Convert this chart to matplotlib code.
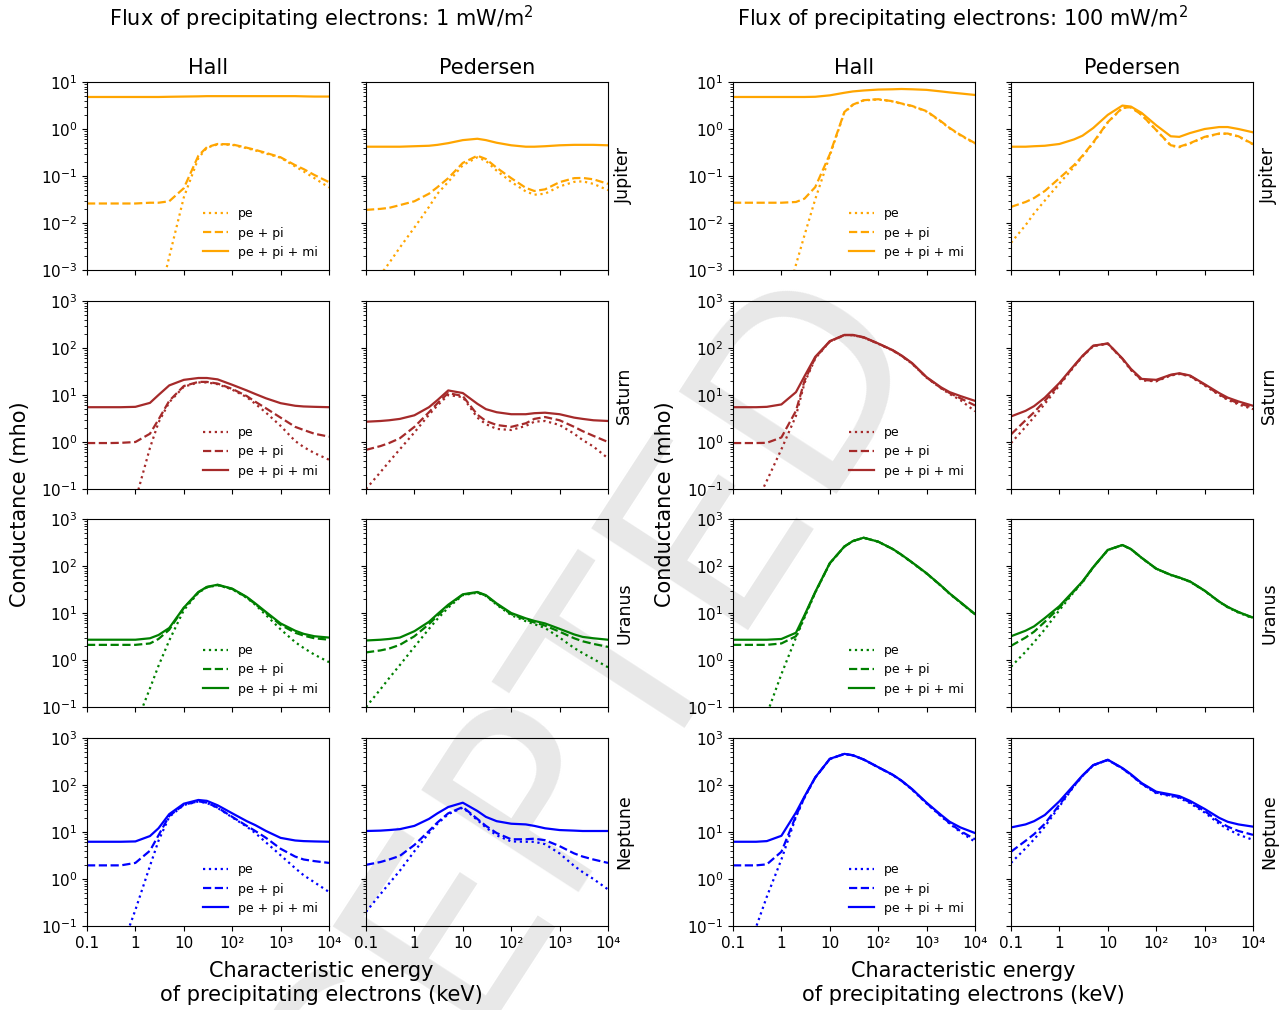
import numpy as np
import matplotlib
matplotlib.use("Agg")
import matplotlib.pyplot as plt
from matplotlib.ticker import LogLocator, NullLocator

# ---------------- data ----------------
energy = [0.1, 0.2, 0.3, 0.5, 1, 2, 3, 5, 10, 20, 30, 50, 100, 200, 300, 500,
          1000, 2000, 3000, 5000, 10000]

# Jupiter, 1 mW/m2
jup1_hall_pe = [1e-10, 1e-9, 5e-9, 1e-7, 2e-6, 4e-5, 2.1e-4, 1.9e-3, 0.035, 0.24, 0.40, 0.47, 0.46, 0.39, 0.35, 0.30, 0.245, 0.16, 0.125, 0.09, 0.057]
jup1_hall_pepi = [0.026, 0.026, 0.026, 0.026, 0.026, 0.027, 0.027, 0.029, 0.055, 0.27, 0.41, 0.48, 0.47, 0.40, 0.36, 0.31, 0.25, 0.17, 0.14, 0.105, 0.074]
jup1_hall_all = [4.8, 4.8, 4.8, 4.8, 4.8, 4.8, 4.8, 4.85, 4.9, 4.95, 5.0, 5.0, 5.0, 5.0, 5.0, 5.0, 5.0, 5.0, 4.95, 4.9, 4.9]
jup1_ped_pe = [3e-4, 8e-4, 1.4e-3, 3e-3, 8e-3, 0.022, 0.042, 0.075, 0.17, 0.25, 0.21, 0.13, 0.075, 0.047, 0.040, 0.042, 0.060, 0.075, 0.077, 0.068, 0.05]
jup1_ped_pepi = [0.019, 0.020, 0.021, 0.024, 0.029, 0.042, 0.058, 0.09, 0.19, 0.27, 0.23, 0.15, 0.09, 0.056, 0.048, 0.052, 0.074, 0.09, 0.091, 0.085, 0.068]
jup1_ped_all = [0.42, 0.42, 0.42, 0.42, 0.43, 0.44, 0.46, 0.50, 0.58, 0.62, 0.58, 0.51, 0.45, 0.42, 0.42, 0.43, 0.45, 0.46, 0.46, 0.46, 0.45]

# Jupiter, 100 mW/m2
jup100_hall_pe = [1e-8, 1e-7, 1e-6, 1e-5, 1e-4, 1.3e-3, 5.5e-3, 0.032, 0.27, 2.25, 3.25, 4.05, 4.25, 3.85, 3.45, 3.05, 2.35, 1.42, 1.03, 0.73, 0.49]
jup100_hall_pepi = [0.027, 0.027, 0.027, 0.027, 0.027, 0.028, 0.033, 0.058, 0.29, 2.3, 3.3, 4.1, 4.3, 3.9, 3.5, 3.1, 2.4, 1.45, 1.05, 0.75, 0.5]
jup100_hall_all = [4.8, 4.8, 4.8, 4.8, 4.8, 4.8, 4.8, 4.85, 5.2, 5.9, 6.3, 6.6, 6.9, 7.0, 7.1, 7.0, 6.8, 6.3, 6.0, 5.7, 5.3]
jup100_ped_pe = [0.0038, 0.009, 0.016, 0.03, 0.07, 0.155, 0.26, 0.5, 1.38, 2.8, 2.9, 2.0, 0.95, 0.44, 0.41, 0.49, 0.67, 0.79, 0.79, 0.69, 0.47]
jup100_ped_pepi = [0.022, 0.028, 0.034, 0.048, 0.09, 0.17, 0.27, 0.52, 1.4, 2.85, 2.9, 2.0, 0.95, 0.45, 0.42, 0.5, 0.68, 0.8, 0.8, 0.7, 0.48]
jup100_ped_all = [0.42, 0.42, 0.43, 0.44, 0.48, 0.6, 0.72, 1.05, 2.0, 3.15, 3.0, 2.2, 1.2, 0.7, 0.68, 0.82, 1.0, 1.1, 1.1, 1.0, 0.85]

# Saturn, 1 mW/m2
sat1_hall_pe = [1e-5, 1e-4, 5e-4, 5e-3, 0.057, 0.75, 2.6, 7.0, 15, 18.5, 18.5, 17, 13, 9.0, 6.5, 4.2, 2.2, 1.05, 0.78, 0.58, 0.42]
sat1_hall_pepi = [0.95, 0.95, 0.95, 0.96, 1.0, 1.5, 3.0, 7.5, 15.5, 19, 19, 17.5, 13.5, 9.5, 7.2, 5.2, 3.3, 2.1, 1.8, 1.5, 1.3]
sat1_hall_all = [5.5, 5.5, 5.5, 5.5, 5.6, 6.8, 10, 16, 21, 23, 23, 21.5, 16.5, 12.5, 10.5, 8.5, 6.7, 5.9, 5.7, 5.6, 5.5]
sat1_ped_pe = [0.1, 0.23, 0.38, 0.7, 1.6, 3.8, 6.0, 10.0, 9.0, 3.3, 2.4, 1.9, 1.8, 2.2, 2.7, 2.8, 2.3, 1.5, 1.1, 0.8, 0.45]
sat1_ped_pepi = [0.68, 0.82, 0.95, 1.2, 2.1, 4.3, 6.7, 11, 9.5, 3.8, 2.8, 2.3, 2.1, 2.5, 3.1, 3.4, 2.9, 2.1, 1.7, 1.35, 1.0]
sat1_ped_all = [2.7, 2.8, 2.9, 3.1, 3.7, 5.5, 7.8, 12.5, 11, 6.5, 5.0, 4.3, 3.9, 3.9, 4.1, 4.2, 3.9, 3.3, 3.1, 2.9, 2.8]

# Saturn, 100 mW/m2
sat100_hall_pe = [0.005, 0.022, 0.05, 0.15, 0.7, 3.6, 18, 60, 137, 187, 187, 167, 123, 88, 68, 46.5, 23.3, 13.8, 10.5, 7.8, 4.5]
sat100_hall_pepi = [0.95, 0.95, 0.95, 0.96, 1.25, 4.6, 20, 62, 138, 188, 188, 168, 124, 89, 69, 47, 23.5, 14, 11, 8.5, 6.0]
sat100_hall_all = [5.5, 5.5, 5.5, 5.6, 6.3, 11.5, 25, 65, 140, 190, 190, 170, 125, 90, 70, 48, 24, 14.5, 11.5, 9.5, 7.5]
sat100_ped_pe = [0.95, 2.1, 3.4, 6.5, 16, 40, 66, 110, 123, 58, 34, 20.5, 19.5, 26, 28, 25, 16, 10, 7.9, 6.3, 5.0]
sat100_ped_pepi = [1.45, 2.9, 4.3, 7.5, 17, 41, 67, 111, 124, 59, 35, 21, 20, 26.5, 28.5, 25.5, 16.5, 10.3, 8.2, 6.7, 5.4]
sat100_ped_all = [3.5, 4.6, 5.8, 8.8, 18, 42, 68, 112, 125, 60, 36, 22, 21, 27, 29, 26, 17, 11, 8.8, 7.3, 5.9]

# Uranus, 1 mW/m2
ura1_hall_pe = [1e-4, 6e-4, 1.7e-3, 6e-3, 0.04, 0.25, 0.75, 2.6, 11.5, 27, 35, 39, 32, 21, 15, 9, 4.5, 2.4, 1.8, 1.3, 0.9]
ura1_hall_pepi = [2.1, 2.1, 2.1, 2.1, 2.1, 2.25, 2.8, 4.4, 12.8, 27.5, 35.5, 39.5, 32.5, 21.5, 15.5, 10, 5.6, 3.8, 3.3, 2.9, 2.7]
ura1_hall_all = [2.7, 2.7, 2.7, 2.7, 2.7, 2.9, 3.4, 4.8, 13, 28, 36, 40, 33, 22, 16, 10.5, 6.0, 4.2, 3.6, 3.2, 3.0]
ura1_ped_pe = [0.1, 0.24, 0.41, 0.78, 1.9, 4.6, 7.5, 13, 24, 27, 23, 15, 9, 6.7, 5.8, 4.8, 3.0, 1.8, 1.4, 1.05, 0.7]
ura1_ped_pepi = [1.45, 1.6, 1.75, 2.1, 3.2, 5.8, 8.7, 14.2, 24.5, 27.5, 23.5, 15.5, 9.5, 7.2, 6.3, 5.4, 4.0, 2.9, 2.5, 2.2, 1.9]
ura1_ped_all = [2.6, 2.7, 2.8, 3.0, 4.1, 6.5, 9.5, 15, 25, 28, 24, 16, 10, 7.7, 6.8, 6.0, 4.6, 3.5, 3.1, 2.9, 2.7]

# Uranus, 100 mW/m2
ura100_hall_pe = [1e-4, 5e-4, 1.7e-3, 0.07, 0.5, 3.0, 8.0, 27, 113, 258, 338, 398, 328, 228, 173, 118, 69, 37.5, 25.5, 16.7, 9.3]
ura100_hall_pepi = [2.1, 2.1, 2.1, 2.1, 2.25, 3.2, 8.5, 27.5, 114, 259, 339, 399, 329, 229, 174, 119, 69.5, 37.8, 25.8, 16.8, 9.4]
ura100_hall_all = [2.7, 2.7, 2.7, 2.7, 2.8, 3.8, 9, 28, 115, 260, 340, 400, 330, 230, 175, 120, 70, 38, 26, 17, 9.5]
ura100_ped_pe = [0.72, 1.5, 2.4, 4.5, 11.5, 28, 45, 93, 218, 278, 228, 148, 87, 64, 56, 46, 29.5, 17.2, 13.2, 10.2, 7.7]
ura100_ped_pepi = [2.0, 3.0, 4.0, 6.5, 13, 29, 46, 94, 219, 279, 229, 149, 87.5, 64.5, 56.5, 46.5, 29.8, 17.4, 13.4, 10.4, 7.9]
ura100_ped_all = [3.2, 4.2, 5.2, 7.8, 14, 30, 47, 95, 220, 280, 230, 150, 88, 65, 57, 47, 30, 17.5, 13.5, 10.5, 8.0]

# Neptune, 1 mW/m2
nep1_hall_pe = [1e-4, 5e-4, 2e-3, 0.03, 0.22, 1.9, 6.5, 21, 37.5, 44.5, 41.5, 32.5, 20.5, 13, 9.5, 6.0, 3.2, 1.7, 1.2, 0.85, 0.53]
nep1_hall_pepi = [1.95, 1.95, 1.95, 1.95, 2.2, 4.0, 8.5, 22, 38, 45, 42, 33, 21, 13.5, 10.5, 7.5, 4.4, 3.0, 2.6, 2.4, 2.2]
nep1_hall_all = [6.2, 6.2, 6.2, 6.2, 6.3, 8.2, 12, 24, 40, 48, 46, 37, 25, 17, 14, 10.5, 7.5, 6.6, 6.4, 6.3, 6.2]
nep1_ped_pe = [0.2, 0.48, 0.8, 1.5, 3.9, 9.5, 15, 24, 33, 18, 12.5, 8.5, 6.3, 6.2, 6.2, 5.5, 3.5, 1.9, 1.4, 1.0, 0.6]
nep1_ped_pepi = [2.0, 2.3, 2.6, 3.1, 5.3, 10.5, 16, 25, 34, 19, 13.5, 9.5, 7.0, 7.0, 7.2, 6.7, 5.0, 3.5, 3.0, 2.6, 2.2]
nep1_ped_all = [10.5, 10.7, 11, 11.5, 13.5, 19, 25, 34, 42, 28, 21, 17, 15, 14.5, 13.5, 12, 11, 10.7, 10.5, 10.5, 10.5]

# Neptune, 100 mW/m2
nep100_hall_pe = [1e-3, 0.03, 0.095, 0.42, 2.6, 21, 54, 143, 357, 457, 427, 347, 238, 163, 123, 80, 40.5, 21.5, 15, 10, 6.2]
nep100_hall_pepi = [1.95, 1.95, 1.95, 2.05, 3.8, 22, 55, 144, 358, 458, 428, 348, 239, 164, 124, 81, 41, 22, 15.5, 10.5, 7.0]
nep100_hall_all = [6.2, 6.2, 6.2, 6.4, 8.3, 26, 57, 145, 360, 460, 430, 350, 240, 165, 125, 82, 42, 23, 16.5, 12.5, 9.5]
nep100_ped_pe = [2.2, 4.5, 7.0, 13, 35, 94, 155, 262, 340, 224, 164, 105, 67, 58, 53, 41, 26, 15, 11.5, 8.8, 6.8]
nep100_ped_pepi = [3.8, 6.5, 9, 15, 38, 96, 157, 264, 342, 226, 166, 107, 69, 60, 55, 43, 28, 16.5, 13, 10.5, 8.7]
nep100_ped_all = [12.5, 14.5, 17, 23, 45, 100, 160, 265, 345, 230, 170, 110, 72, 63, 58, 46, 31, 20, 16.5, 14.5, 13]

planets = ["Jupiter", "Saturn", "Uranus", "Neptune"]
planet_colors = ["orange", "brown", "green", "blue"]
fluxes = ["1", "100"]
kinds = ["Hall", "Pedersen"]
series_labels = ["pe", "pe + pi", "pe + pi + mi"]
series_styles = [":", "--", "-"]
xtick_values = [0.1, 1, 10, 100, 1000, 10000]
xtick_labels = ["0.1", "1", "10", "10²", "10³", "10⁴"]

curves = {
    ("Jupiter", "1", "Hall"): (jup1_hall_pe, jup1_hall_pepi, jup1_hall_all),
    ("Jupiter", "1", "Pedersen"): (jup1_ped_pe, jup1_ped_pepi, jup1_ped_all),
    ("Jupiter", "100", "Hall"): (jup100_hall_pe, jup100_hall_pepi, jup100_hall_all),
    ("Jupiter", "100", "Pedersen"): (jup100_ped_pe, jup100_ped_pepi, jup100_ped_all),
    ("Saturn", "1", "Hall"): (sat1_hall_pe, sat1_hall_pepi, sat1_hall_all),
    ("Saturn", "1", "Pedersen"): (sat1_ped_pe, sat1_ped_pepi, sat1_ped_all),
    ("Saturn", "100", "Hall"): (sat100_hall_pe, sat100_hall_pepi, sat100_hall_all),
    ("Saturn", "100", "Pedersen"): (sat100_ped_pe, sat100_ped_pepi, sat100_ped_all),
    ("Uranus", "1", "Hall"): (ura1_hall_pe, ura1_hall_pepi, ura1_hall_all),
    ("Uranus", "1", "Pedersen"): (ura1_ped_pe, ura1_ped_pepi, ura1_ped_all),
    ("Uranus", "100", "Hall"): (ura100_hall_pe, ura100_hall_pepi, ura100_hall_all),
    ("Uranus", "100", "Pedersen"): (ura100_ped_pe, ura100_ped_pepi, ura100_ped_all),
    ("Neptune", "1", "Hall"): (nep1_hall_pe, nep1_hall_pepi, nep1_hall_all),
    ("Neptune", "1", "Pedersen"): (nep1_ped_pe, nep1_ped_pepi, nep1_ped_all),
    ("Neptune", "100", "Hall"): (nep100_hall_pe, nep100_hall_pepi, nep100_hall_all),
    ("Neptune", "100", "Pedersen"): (nep100_ped_pe, nep100_ped_pepi, nep100_ped_all),
}

# ---------------- layout ----------------
W, H = 1284, 1010
fig = plt.figure(figsize=(W / 100, H / 100), dpi=100)

col_left = [87, 366, 733, 1011]
row_top = [82, 301, 519, 738]
pw, ph = 242, 188

# faint watermark behind everything (it runs off the page, as in the reference)
fig.text(500 / W, 1 - 880 / H, "ACCEPTED", rotation=57, fontsize=185,
         color="#e8e8e8", ha="center", va="center", zorder=-1)

for fi, flux in enumerate(fluxes):
    for ki, kind in enumerate(kinds):
        c = fi * 2 + ki
        for r, planet in enumerate(planets):
            ax = fig.add_axes([col_left[c] / W, 1 - (row_top[r] + ph) / H, pw / W, ph / H])
            ax.set_facecolor("none")
            data = curves[(planet, flux, kind)]
            for vals, ls, lab in zip(data, series_styles, series_labels):
                ax.plot(energy, vals, ls=ls, color=planet_colors[r], lw=1.6, label=lab)
            ax.set_xscale("log")
            ax.set_yscale("log")
            ax.set_xlim(0.1, 1e4)
            if r == 0:
                ax.set_ylim(1e-3, 1e1)
            else:
                ax.set_ylim(1e-1, 1e3)
            ax.set_xticks(xtick_values)
            ax.xaxis.set_minor_locator(NullLocator())
            ax.yaxis.set_major_locator(LogLocator(base=10, numticks=10))
            ax.yaxis.set_minor_locator(LogLocator(base=10, subs=np.arange(2, 10) * 1.0, numticks=20))
            if r == 3:
                ax.set_xticklabels(xtick_labels)
            else:
                ax.set_xticklabels([])
            ax.tick_params(labelsize=11)
            if ki == 1:
                ax.tick_params(axis="y", labelleft=False)
                ax.text(1.03, 0.5, planet, transform=ax.transAxes, rotation=90,
                        ha="left", va="center", fontsize=12.5)
            else:
                ax.legend(loc="lower right", frameon=False, fontsize=9)
            if r == 0:
                ax.set_title(kind, fontsize=15)

    cx = (321 if fi == 0 else 963) / W
    fig.text(cx, 1 - 18 / H, f"Flux of precipitating electrons: {flux} mW/m$^2$",
             ha="center", va="center", fontsize=15)
    fig.text(cx, 1 - 983 / H, "Characteristic energy\nof precipitating electrons (keV)",
             ha="center", va="center", fontsize=15)
    fig.text((20 if fi == 0 else 665) / W, 1 - 504 / H, "Conductance (mho)",
             rotation=90, ha="center", va="center", fontsize=15)

fig.savefig("out.png", dpi=100)
